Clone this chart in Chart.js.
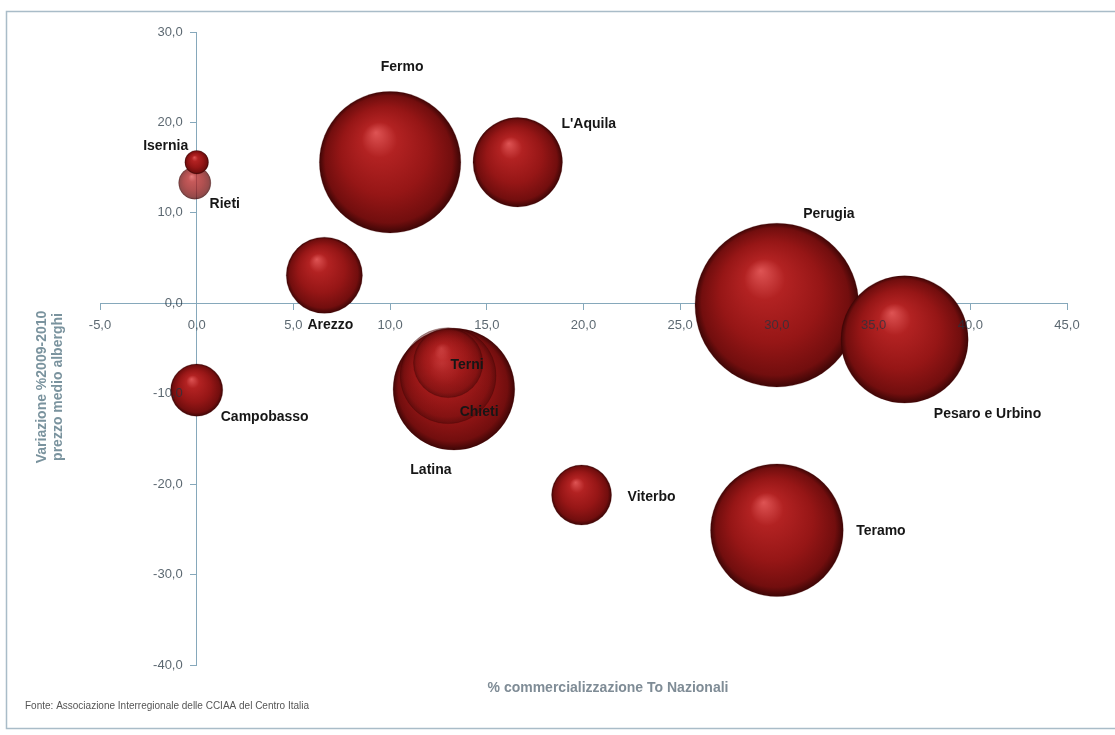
<!DOCTYPE html>
<html>
<head>
<meta charset="utf-8">
<script src="https://cdn.jsdelivr.net/npm/chart.js@4/dist/chart.umd.min.js"></script>
<style>
  html, body { margin: 0; padding: 0; background: #ffffff; }
  #wrap { width: 1115px; height: 735px; }
</style>
</head>
<body>
<div id="wrap"><canvas id="c" width="1115" height="735"></canvas></div>
<script>
// ---- data ----
const provinces = ["Perugia", "Fermo", "Teramo", "Pesaro e Urbino", "Latina", "Chieti", "L'Aquila", "Arezzo", "Terni", "Viterbo", "Campobasso", "Rieti", "Isernia"];
const commercializzazione = [30.0, 10.0, 30.0, 36.6, 13.3, 13.0, 16.6, 6.6, 13.0, 19.9, 0.0, -0.1, 0.0];
const variazionePrezzo   = [-0.2, 15.6, -25.1, -4.0, -9.5, -8.0, 15.6, 3.1, -6.6, -21.2, -9.6, 13.3, 15.6];
const bubbleSize         = [67, 50, 44, 40.5, 37, 23, 20, 14.5, 12, 9, 6.8, 2.6, 1.4];
const xTicks = [-5, 0, 5, 10, 15, 20, 25, 30, 35, 40, 45];
const yTicks = [30, 20, 10, 0, -10, -20, -30, -40];

// ---- presentation (not data) ----
const radiusScale = 10;          // pixel radius = radiusScale * sqrt(size)
const bubbleAlpha = [1, 1, 1, 1, 1, 0.5, 1, 1, 0.55, 1, 1, 0.75, 1];
const labelOffset = [[52,-91],[12,-95],[104,1],[83,75],[-23,81],[31,37],[71,-38],[6,50],[19,2],[70,2],[68,27],[30,21],[-31,-16]];
const axisColor = '#86a8bb';
const tickTextColor = 'rgba(36,52,64,0.75)';
const tickFont = '13px "Liberation Sans", Arial, sans-serif';

const points = provinces.map((p, i) => ({
  x: commercializzazione[i], y: variazionePrezzo[i], r: radiusScale * Math.sqrt(bubbleSize[i])
}));

function fmt(v) { return v.toFixed(1).replace('.', ','); }

function sphereFill(ctx) {
  const chart = ctx.chart;
  if (ctx.type !== 'data' || !chart.chartArea) return '#961616';
  const i = ctx.dataIndex;
  const a = bubbleAlpha[i];
  const px = chart.scales.x.getPixelForValue(points[i].x);
  const py = chart.scales.y.getPixelForValue(points[i].y);
  const r = points[i].r;
  const c = chart.ctx;
  const g = c.createRadialGradient(px - r * 0.2, py - r * 0.42, 0, px, py, r);
  g.addColorStop(0.0, `rgba(222,84,84,${a})`);
  g.addColorStop(0.25, `rgba(178,34,34,${a})`);
  g.addColorStop(0.62, `rgba(150,22,22,${a})`);
  g.addColorStop(0.9, `rgba(114,14,14,${a})`);
  g.addColorStop(1.0, `rgba(62,6,6,${a})`);
  return g;
}

const framePlugin = {
  id: 'frame',
  beforeDraw(chart) {
    const c = chart.ctx;
    c.save();
    c.fillStyle = '#ffffff';
    c.fillRect(0, 0, chart.width, chart.height);
    c.strokeStyle = '#a9bcc8';
    c.lineWidth = 1.5;
    c.strokeRect(6.5, 11.5, chart.width + 10, 717);
    c.restore();
  }
};

const textPlugin = {
  id: 'texts',
  afterDatasetsDraw(chart) {
    const c = chart.ctx;
    const xs = chart.scales.x, ys = chart.scales.y;
    c.save();
    // y tick labels, placed left of the y axis (which crosses at x = 0)
    const axisX = xs.getPixelForValue(0);
    c.font = tickFont;
    c.fillStyle = tickTextColor;
    c.textAlign = 'right';
    c.textBaseline = 'middle';
    ys.ticks.forEach(t => {
      c.fillText(fmt(t.value), axisX - 14, ys.getPixelForValue(t.value));
    });
    // bubble labels
    c.font = 'bold 14px "Liberation Sans", Arial, sans-serif';
    c.fillStyle = '#161616';
    c.textAlign = 'center';
    c.textBaseline = 'middle';
    provinces.forEach((name, i) => {
      const px = xs.getPixelForValue(points[i].x);
      const py = ys.getPixelForValue(points[i].y);
      c.fillText(name, px + labelOffset[i][0], py + labelOffset[i][1]);
    });
    c.restore();
  },
  afterDraw(chart) {
    const c = chart.ctx;
    c.save();
    // x axis title
    c.font = 'bold 14px "Liberation Sans", Arial, sans-serif';
    c.fillStyle = '#7f8c96';
    c.textAlign = 'center';
    c.textBaseline = 'middle';
    c.fillText('% commercializzazione To Nazionali', 608, 688);
    // y axis title (rotated)
    c.save();
    c.translate(50, 387);
    c.rotate(-Math.PI / 2);
    c.fillStyle = '#7a939e';
    c.fillText('Variazione %2009-2010', 0, -8);
    c.fillText('prezzo medio alberghi', 0, 8);
    c.restore();
    // source
    c.font = '10px "Liberation Sans", Arial, sans-serif';
    c.fillStyle = '#555555';
    c.textAlign = 'left';
    c.fillText('Fonte: Associazione Interregionale delle CCIAA del Centro Italia', 25, 706);
    c.restore();
  }
};

new Chart(document.getElementById('c'), {
  type: 'bubble',
  data: {
    datasets: [{
      data: points,
      backgroundColor: sphereFill,
      borderColor: 'rgba(70,0,0,0.4)',
      borderWidth: 0.6,
      hoverBorderWidth: 0.6
    }]
  },
  options: {
    responsive: false,
    animation: false,
    devicePixelRatio: 1,
    layout: { autoPadding: false, padding: { left: 100, right: 48, top: 32, bottom: 70 } },
    plugins: { legend: { display: false }, tooltip: { enabled: false }, title: { display: false } },
    scales: {
      x: {
        type: 'linear',
        position: { y: 0 },
        min: -5, max: 45,
        afterBuildTicks: (s) => { s.ticks = xTicks.map(v => ({ value: v })); },
        grid: { display: true, drawOnChartArea: false, drawTicks: true, tickLength: 6, color: axisColor },
        border: { display: true, color: axisColor, width: 1 },
        ticks: {
          z: 1, padding: 8, maxRotation: 0, autoSkip: false,
          color: tickTextColor,
          font: { family: '"Liberation Sans", Arial, sans-serif', size: 13 },
          callback: (v) => fmt(v)
        }
      },
      y: {
        type: 'linear',
        position: { x: 0 },
        min: -40, max: 30,
        afterBuildTicks: (s) => { s.ticks = yTicks.map(v => ({ value: v })); },
        grid: { display: true, drawOnChartArea: false, drawTicks: true, tickLength: 6, color: axisColor },
        border: { display: true, color: axisColor, width: 1 },
        ticks: { display: false }
      }
    }
  },
  plugins: [framePlugin, textPlugin]
});
</script>
</body>
</html>
